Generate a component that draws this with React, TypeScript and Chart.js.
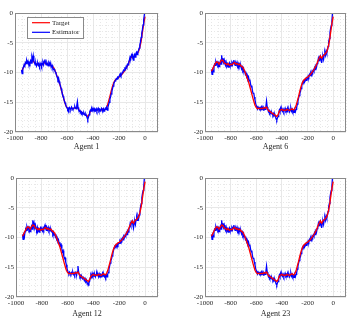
import React, { useEffect, useRef } from "react";
import { Chart, registerables } from "chart.js";

Chart.register(...registerables);

// ---------- data ----------
const TARGET_START = -950;
const TARGET_STEP = 10;
const EST_START = -950;
const EST_STEP = 5;

const target = [
  -9.8, -9.4, -8.9, -8.5, -8.2, -8.3, -8.6, -8.2, -7.9, -8.0,
  -8.4, -8.5, -8.7, -8.5, -8.8, -8.6, -8.7, -8.5, -8.3, -8.6,
  -8.5, -8.7, -8.6, -8.9, -9.0, -9.3, -9.8, -10.4, -11.0, -11.6,
  -12.4, -13.2, -14.0, -14.8, -15.5, -15.9, -16.1, -16.0, -16.1, -16.0,
  -16.1, -15.9, -16.0, -15.8, -16.2, -16.5, -16.6, -16.8, -16.9, -17.1,
  -17.2, -17.4, -17.1, -16.5, -16.3, -16.2, -16.4, -16.3, -16.4, -16.2,
  -16.3, -16.4, -16.2, -16.1, -16.3, -16.1, -15.6, -14.8, -14.0, -13.1,
  -12.3, -11.7, -11.3, -11.1, -10.9, -10.8, -10.6, -10.4, -10.1, -9.8,
  -9.5, -9.1, -8.7, -8.1, -7.6, -7.2, -7.6, -7.2, -7.0, -6.8,
  -6.5, -5.8, -4.8, -3.3, -1.8, -0.6,
];

const estimatorAgent1 = [
  -9.6, -10.2, -9.3, -9.1, -8.7, -8.9, -8.3, -8.5, -8.0, -8.4,
  -8.1, -8.6, -8.9, -8.3, -8.0, -8.4, -7.4, -7.9, -7.2, -8.1,
  -8.3, -8.7, -8.4, -8.9, -8.6, -8.4, -8.8, -8.5, -9.0, -8.7,
  -8.4, -8.9, -8.6, -8.3, -8.7, -8.1, -7.8, -8.4, -8.7, -8.3,
  -8.6, -8.9, -8.4, -8.7, -8.3, -8.8, -9.0, -8.8, -9.3, -9.5,
  -9.4, -9.6, -9.9, -10.1, -10.5, -10.8, -11.2, -10.9, -11.5, -11.9,
  -12.3, -12.7, -13.2, -13.6, -14.0, -14.4, -14.8, -15.1, -15.4, -15.8,
  -15.9, -16.2, -16.0, -16.3, -15.9, -16.1, -16.2, -15.8, -16.0, -16.2,
  -16.1, -15.9, -15.7, -16.0, -16.1, -15.6, -14.9, -15.9, -16.3, -16.5,
  -16.4, -16.7, -16.6, -16.9, -16.8, -17.0, -16.8, -17.1, -17.2, -17.0,
  -17.3, -17.6, -17.9, -17.5, -17.1, -16.6, -16.3, -16.5, -16.1, -16.4,
  -16.0, -16.3, -16.5, -16.2, -16.4, -16.1, -16.5, -16.2, -16.0, -16.4,
  -16.2, -16.5, -16.3, -16.0, -16.2, -16.4, -16.1, -16.5, -16.3, -16.0,
  -16.2, -16.0, -16.3, -15.8, -15.4, -15.0, -14.5, -14.1, -13.6, -13.2,
  -12.7, -12.3, -11.9, -11.6, -11.4, -11.2, -11.0, -11.1, -10.8, -10.9,
  -10.6, -10.4, -10.2, -10.5, -10.3, -10.0, -9.9, -9.6, -9.7, -9.3,
  -9.4, -9.0, -9.2, -8.6, -8.7, -8.2, -7.9, -7.4, -7.6, -7.1,
  -6.9, -7.5, -7.9, -7.3, -7.0, -7.4, -6.8, -6.6, -7.0, -6.5,
  -6.3, -5.9, -5.4, -4.9, -4.1, -3.4, -2.8, -2.0, -1.1, -0.3,
  0.5,
];

const estimatorAgent6 = [
  -9.5, -10.3, -9.6, -9.9, -9.0, -8.6, -8.8, -8.2, -8.6, -8.3,
  -8.7, -8.4, -9.0, -8.5, -8.1, -8.6, -7.1, -8.2, -7.6, -8.3,
  -7.9, -8.5, -8.8, -8.3, -8.9, -8.6, -9.1, -8.7, -8.4, -8.8,
  -8.6, -8.9, -8.4, -8.7, -8.2, -7.9, -8.5, -8.8, -8.4, -8.7,
  -8.3, -8.8, -8.5, -8.9, -8.6, -9.0, -8.9, -9.4, -9.1, -9.6,
  -9.3, -9.9, -9.7, -10.3, -10.1, -10.7, -10.5, -11.1, -10.8, -11.4,
  -11.2, -11.9, -12.4, -12.2, -13.1, -13.5, -13.4, -14.1, -14.6, -15.2,
  -15.6, -15.9, -16.1, -15.8, -16.0, -16.2, -15.9, -16.1, -15.8, -16.2,
  -16.0, -16.3, -15.9, -16.1, -16.2, -15.7, -14.8, -15.8, -16.2, -16.6,
  -16.4, -16.8, -16.6, -16.9, -16.7, -17.0, -17.2, -16.9, -17.3, -17.1,
  -17.5, -17.8, -18.0, -17.6, -17.4, -16.8, -16.3, -16.6, -16.0, -16.4,
  -16.1, -16.5, -16.2, -16.6, -16.3, -16.0, -16.4, -16.2, -16.6, -16.1,
  -16.4, -16.2, -16.6, -16.3, -16.0, -16.5, -16.2, -16.6, -16.4, -16.7,
  -16.3, -16.6, -16.2, -15.9, -15.3, -14.8, -14.3, -13.9, -13.6, -13.1,
  -12.7, -12.2, -11.8, -11.5, -11.6, -11.3, -11.4, -11.1, -11.3, -10.9,
  -11.0, -10.6, -10.8, -10.3, -10.5, -10.1, -10.4, -9.8, -10.0, -9.6,
  -9.8, -9.2, -9.5, -8.9, -9.1, -8.5, -8.3, -7.6, -8.0, -7.4,
  -7.2, -7.8, -8.4, -7.6, -7.3, -7.8, -7.0, -6.6, -7.1, -6.4,
  -6.8, -6.2, -5.6, -4.8, -4.3, -3.3, -2.6, -2.1, -1.4, 0.2,
  0.8,
];

const estimatorAgent12 = estimatorAgent6;
const estimatorAgent23 = estimatorAgent6;

const agentNames = ["Agent 1", "Agent 6", "Agent 12", "Agent 23"];
const seriesLabels = ["Target", "Estimator"];

const xTicks = [-1000, -800, -600, -400, -200, 0];
const yTicks = [-20, -15, -10, -5, 0];
const xMinor = [
  -950, -900, -850, -750, -700, -650, -550, -500, -450, -350, -300, -250,
  -150, -100, -50, 50, 100,
];
const yMinor = [
  -19, -18, -17, -16, -14, -13, -12, -11, -9, -8, -7, -6, -4, -3, -2, -1,
];

// ---------- layout / style ----------
const FONT = "'Liberation Serif', 'Times New Roman', serif";
const TEXT = "#262626";
const Y_W = 15;
const PAD_T = 8;
const PAD_R = 12;
const X_H = 30;

const panels = [
  { name: agentNames[0], est: estimatorAgent1, l: 15, t: 13, r: 158, b: 132, titleOff: 14.5, legend: true, estOnTop: true },
  { name: agentNames[1], est: estimatorAgent6, l: 205, t: 13, r: 346, b: 132, titleOff: 14.5, legend: false, estOnTop: false },
  { name: agentNames[2], est: estimatorAgent12, l: 16, t: 178, r: 158, b: 297, titleOff: 17, legend: false, estOnTop: false },
  { name: agentNames[3], est: estimatorAgent23, l: 205, t: 178, r: 346, b: 297, titleOff: 17, legend: false, estOnTop: false },
];

const decorPlugin = {
  id: "decor",
  beforeDatasetsDraw(chart: any) {
    const { ctx, chartArea: a, scales } = chart;
    ctx.save();
    ctx.strokeStyle = "#dedede";
    ctx.lineWidth = 0.7;
    ctx.setLineDash([1, 2]);
    for (const v of xMinor) {
      const px = Math.round(scales.x.getPixelForValue(v)) + 0.5;
      ctx.beginPath();
      ctx.moveTo(px, a.top);
      ctx.lineTo(px, a.bottom);
      ctx.stroke();
    }
    for (const v of yMinor) {
      const py = Math.round(scales.y.getPixelForValue(v)) + 0.5;
      ctx.beginPath();
      ctx.moveTo(a.left, py);
      ctx.lineTo(a.right, py);
      ctx.stroke();
    }
    ctx.restore();
  },
  afterDatasetsDraw(chart: any, _args: any, opts: any) {
    const { ctx, chartArea: a } = chart;
    ctx.save();
    ctx.strokeStyle = "#8a8a8a";
    ctx.lineWidth = 1;
    ctx.setLineDash([]);
    ctx.strokeRect(
      Math.round(a.left) + 0.5,
      Math.round(a.top) + 0.5,
      Math.round(a.right - a.left) - 1,
      Math.round(a.bottom - a.top) - 1
    );
    if (opts && opts.legend) {
      const bx = a.left + 12;
      const by = a.top + 4;
      const bw = 56;
      const bh = 21;
      ctx.fillStyle = "#ffffff";
      ctx.fillRect(bx, by, bw, bh);
      ctx.strokeStyle = "#8a8a8a";
      ctx.strokeRect(Math.round(bx) + 0.5, Math.round(by) + 0.5, bw, bh);
      const order = [0, 1];
      order.forEach((di, k) => {
        const ds = chart.data.datasets[di];
        const ly = by + 5.7 + k * 9.6;
        ctx.strokeStyle = ds.borderColor;
        ctx.lineWidth = 1.2;
        ctx.beginPath();
        ctx.moveTo(bx + 5, ly);
        ctx.lineTo(bx + 23, ly);
        ctx.stroke();
        ctx.fillStyle = TEXT;
        ctx.font = `7px ${FONT}`;
        ctx.textAlign = "left";
        ctx.textBaseline = "middle";
        ctx.fillText(ds.label, bx + 25, ly);
      });
    }
    ctx.restore();
  },
};

function Panel(props: any) {
  const { name, est, l, t, r, b, titleOff, legend, estOnTop } = props;
  const ref = useRef<HTMLCanvasElement>(null);
  const width = r - l + Y_W + PAD_R;
  const height = PAD_T + (b - t) + X_H;

  useEffect(() => {
    const fontLH = 8 * 1.2;
    const titlePadBottom = X_H - fontLH / 2 - titleOff;
    const chart = new Chart(ref.current as HTMLCanvasElement, {
      type: "line",
      data: {
        datasets: [
          {
            label: seriesLabels[0],
            data: target.map((y, i) => ({ x: TARGET_START + i * TARGET_STEP, y })),
            borderColor: "#ff0000",
            borderWidth: 1.3,
            pointRadius: 0,
            tension: 0,
            order: estOnTop ? 2 : 1,
          },
          {
            label: seriesLabels[1],
            data: est.map((y: number, i: number) => ({ x: EST_START + i * EST_STEP, y })),
            borderColor: "#0000ff",
            borderWidth: 1.3,
            pointRadius: 0,
            tension: 0,
            order: estOnTop ? 1 : 2,
          },
        ],
      },
      options: {
        animation: false,
        responsive: false,
        maintainAspectRatio: false,
        devicePixelRatio: 1,
        events: [],
        layout: { padding: { left: 0, top: PAD_T, right: PAD_R, bottom: 0 } },
        plugins: {
          legend: { display: false },
          tooltip: { enabled: false },
          decor: { legend },
        } as any,
        scales: {
          x: {
            type: "linear",
            min: -1000,
            max: 100,
            afterBuildTicks: (s: any) => {
              s.ticks = xTicks.map((v) => ({ value: v }));
            },
            afterFit: (s: any) => {
              s.height = X_H;
            },
            grid: { color: "#e8e8e8", lineWidth: 1, drawTicks: false },
            border: { display: false },
            ticks: {
              autoSkip: false,
              maxRotation: 0,
              padding: 2,
              color: TEXT,
              font: { family: FONT, size: 7 },
              callback: (v: any) => String(v),
            },
            title: {
              display: true,
              text: name,
              color: TEXT,
              font: { family: FONT, size: 8 },
              padding: { top: 0, bottom: titlePadBottom },
            },
          },
          y: {
            type: "linear",
            min: -20,
            max: 0,
            afterBuildTicks: (s: any) => {
              s.ticks = yTicks.map((v) => ({ value: v }));
            },
            afterFit: (s: any) => {
              s.width = Y_W;
            },
            grid: { color: "#e8e8e8", lineWidth: 1, drawTicks: false },
            border: { display: false },
            ticks: {
              padding: 2,
              color: TEXT,
              font: { family: FONT, size: 7 },
              callback: (v: any) => String(v),
            },
          },
        },
      } as any,
      plugins: [decorPlugin as any],
    });
    return () => chart.destroy();
  }, []);

  return (
    <canvas
      ref={ref}
      width={width}
      height={height}
      style={{
        position: "absolute",
        left: l - Y_W,
        top: t - PAD_T,
        width,
        height,
        display: "block",
      }}
    />
  );
}

export default function App() {
  return (
    <div
      style={{
        position: "fixed",
        left: 0,
        top: 0,
        width: 361,
        height: 322,
        background: "#ffffff",
        overflow: "hidden",
      }}
    >
      {panels.map((p) => (
        <Panel key={p.name} {...p} />
      ))}
    </div>
  );
}
